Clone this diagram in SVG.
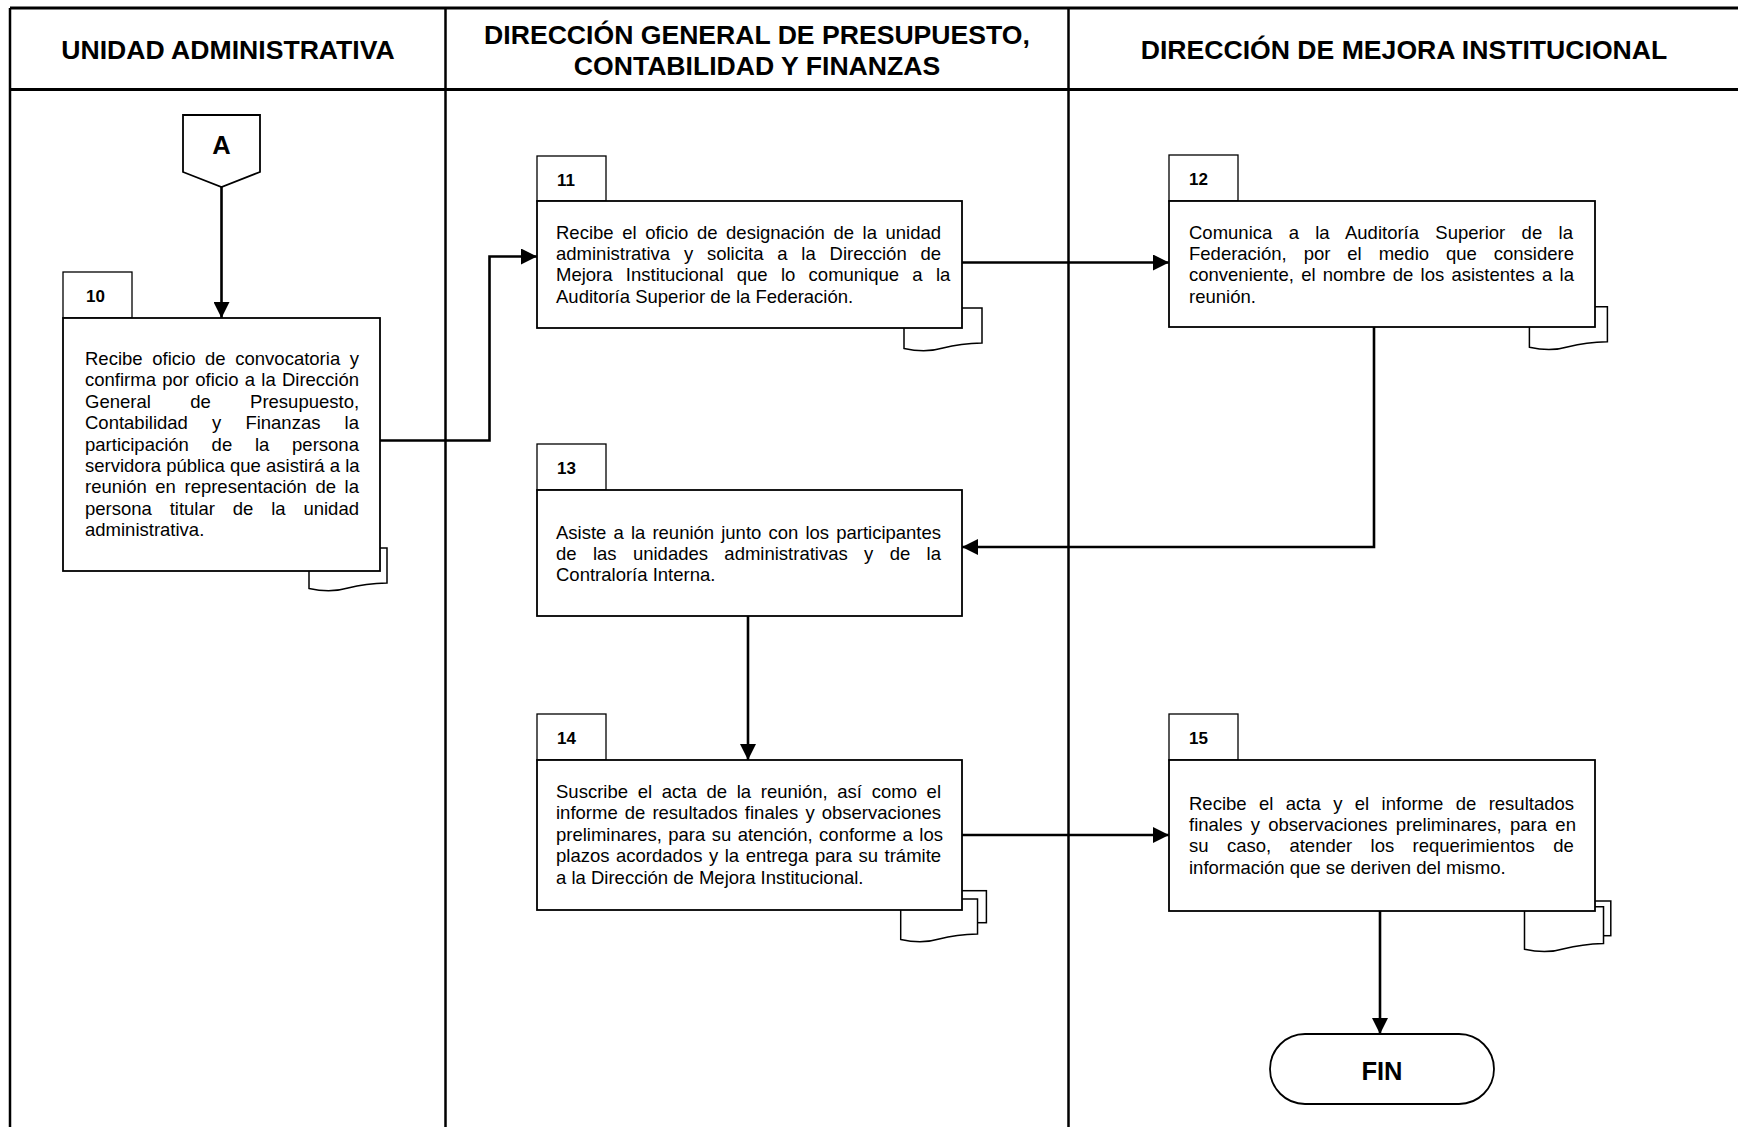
<svg xmlns="http://www.w3.org/2000/svg" width="1738" height="1127" viewBox="0 0 1738 1127">
<style>
.t{font-family:"Liberation Sans",Arial,sans-serif;font-size:18.5px;fill:#000}
.n{font-family:"Liberation Sans",Arial,sans-serif;font-size:17px;font-weight:bold;fill:#000}
.h{font-family:"Liberation Sans",Arial,sans-serif;font-size:26.6px;font-weight:bold;fill:#000;text-anchor:middle}
.big{font-family:"Liberation Sans",Arial,sans-serif;font-size:25.5px;font-weight:bold;fill:#000;text-anchor:middle}
.box{fill:#fff;stroke:#000;stroke-width:1.8}
.tab{fill:#fff;stroke:#000;stroke-width:1.3}
.doc{fill:#fff;stroke:#000;stroke-width:1.5}
.conn{fill:none;stroke:#000;stroke-width:2.6}
.lane{fill:none;stroke:#000;stroke-width:2.5}
.laneh{fill:none;stroke:#000;stroke-width:3}
</style>
<defs>
<marker id="arr" markerUnits="userSpaceOnUse" markerWidth="17" markerHeight="16" refX="16" refY="8" orient="auto">
<path d="M0,0 L16,8 L0,16 Z" fill="#000"/>
</marker>
<path id="docp" d="M0,0 H78 V35 C61,35.5 51,37 39,40 C29,43 16,44 0,40.5 Z"/>
</defs>
<rect x="0" y="0" width="1738" height="1127" fill="#fff"/>
<g id="lanes">
<path class="lane" d="M10,8 V1127 M445.5,8 V1127 M1068.5,8 V1127"/>
<path class="laneh" d="M10,8 H1738 M10,89.5 H1738"/>
<text class="h" x="228" y="59.3">UNIDAD ADMINISTRATIVA</text>
<text class="h" x="757" y="43.7">DIRECCIÓN GENERAL DE PRESUPUESTO,</text>
<text class="h" x="757" y="74.7">CONTABILIDAD Y FINANZAS</text>
<text class="h" x="1404" y="59.3">DIRECCIÓN DE MEJORA INSTITUCIONAL</text>
</g>
<g id="connectors">
<path class="conn" d="M221.5,187 V318" marker-end="url(#arr)"/>
<path class="conn" d="M380,440.5 H489.5 V256.5 H537" marker-end="url(#arr)"/>
<path class="conn" d="M962,262.5 H1169" marker-end="url(#arr)"/>
<path class="conn" d="M1374,327 V547 H962" marker-end="url(#arr)"/>
<path class="conn" d="M748,616 V760" marker-end="url(#arr)"/>
<path class="conn" d="M962,835 H1169" marker-end="url(#arr)"/>
<path class="conn" d="M1380,911 V1034" marker-end="url(#arr)"/>
</g>
<g id="connA">
<path class="box" d="M183,115 H260 V172 L221.5,187 L183,172 Z"/>
<text class="big" x="221.5" y="153.5">A</text>
</g>
<g id="step10">
<use href="#docp" class="doc" transform="translate(309,548)"/>
<rect class="tab" x="63" y="272" width="69" height="46"/>
<text class="n" x="86" y="302">10</text>
<rect class="box" x="63" y="318" width="317" height="253"/>
<text class="t" x="85" y="365" word-spacing="4.5">Recibe oficio de convocatoria y</text>
<text class="t" x="85" y="386.4" word-spacing="1.14">confirma por oficio a la Dirección</text>
<text class="t" x="85" y="407.8" word-spacing="34.2">General de Presupuesto,</text>
<text class="t" x="85" y="429.2" word-spacing="19">Contabilidad y Finanzas la</text>
<text class="t" x="85" y="450.6" word-spacing="17.6">participación de la persona</text>
<text class="t" x="85" y="472">servidora pública que asistirá a la</text>
<text class="t" x="85" y="493.4" word-spacing="3.45">reunión en representación de la</text>
<text class="t" x="85" y="514.8" word-spacing="12.7">persona titular de la unidad</text>
<text class="t" x="85" y="536.2">administrativa.</text>
</g>
<g id="step11">
<use href="#docp" class="doc" transform="translate(904,308)"/>
<rect class="tab" x="537" y="156" width="69" height="45"/>
<text class="n" x="557" y="186">11</text>
<rect class="box" x="537" y="201" width="425" height="127"/>
<text class="t" x="556" y="238.5" word-spacing="3.44">Recibe el oficio de designación de la unidad</text>
<text class="t" x="556" y="259.9" word-spacing="8.65">administrativa y solicita a la Dirección de</text>
<text class="t" x="556" y="281.3" word-spacing="8.13">Mejora Institucional que lo comunique a la</text>
<text class="t" x="556" y="302.7">Auditoría Superior de la Federación.</text>
</g>
<g id="step12">
<use href="#docp" class="doc" transform="translate(1529.4,306.7)"/>
<rect class="tab" x="1169" y="155" width="69" height="46"/>
<text class="n" x="1189" y="185">12</text>
<rect class="box" x="1169" y="201" width="426" height="126"/>
<text class="t" x="1189" y="238.5" word-spacing="11.2">Comunica a la Auditoría Superior de la</text>
<text class="t" x="1189" y="259.9" word-spacing="11.8">Federación, por el medio que considere</text>
<text class="t" x="1189" y="281.3" word-spacing="2.1">conveniente, el nombre de los asistentes a la</text>
<text class="t" x="1189" y="302.7">reunión.</text>
</g>
<g id="step13">
<rect class="tab" x="537" y="444" width="69" height="46"/>
<text class="n" x="557" y="474">13</text>
<rect class="box" x="537" y="490" width="425" height="126"/>
<text class="t" x="556" y="538.5" word-spacing="1.97">Asiste a la reunión junto con los participantes</text>
<text class="t" x="556" y="559.9" word-spacing="11.2">de las unidades administrativas y de la</text>
<text class="t" x="556" y="581.3">Contraloría Interna.</text>
</g>
<g id="step14">
<rect class="doc" x="940" y="890.7" width="46.4" height="32"/>
<use href="#docp" class="doc" transform="translate(900.7,899) scale(0.985,1)"/>
<rect class="tab" x="537" y="714" width="69" height="46"/>
<text class="n" x="557" y="744">14</text>
<rect class="box" x="537" y="760" width="425" height="150"/>
<text class="t" x="556" y="798" word-spacing="4.55">Suscribe el acta de la reunión, así como el</text>
<text class="t" x="556" y="819.4" word-spacing="1.94">informe de resultados finales y observaciones</text>
<text class="t" x="556" y="840.8" word-spacing="1.25">preliminares, para su atención, conforme a los</text>
<text class="t" x="556" y="862.2" word-spacing="1.39">plazos acordados y la entrega para su trámite</text>
<text class="t" x="556" y="883.6">a la Dirección de Mejora Institucional.</text>
</g>
<g id="step15">
<rect class="doc" x="1570" y="901" width="40.8" height="34.7"/>
<use href="#docp" class="doc" transform="translate(1524.5,906.7) scale(1.013,1.05)"/>
<rect class="tab" x="1169" y="714" width="69" height="46"/>
<text class="n" x="1189" y="744">15</text>
<rect class="box" x="1169" y="760" width="426" height="151"/>
<text class="t" x="1189" y="809.5" word-spacing="7.26">Recibe el acta y el informe de resultados</text>
<text class="t" x="1189" y="830.9" word-spacing="3.14">finales y observaciones preliminares, para en</text>
<text class="t" x="1189" y="852.3" word-spacing="13.2">su caso, atender los requerimientos de</text>
<text class="t" x="1189" y="873.7">información que se deriven del mismo.</text>
</g>
<g id="fin">
<rect class="box" x="1270" y="1034" width="224" height="70" rx="35" ry="35"/>
<text class="big" x="1382" y="1080">FIN</text>
</g>
</svg>
